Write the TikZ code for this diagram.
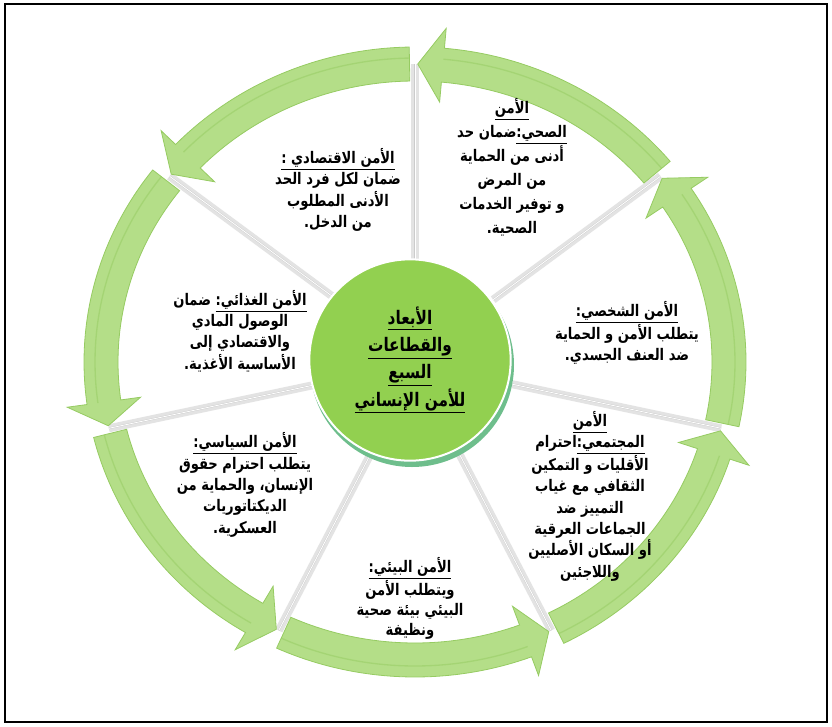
\documentclass[tikz,border=0pt]{standalone}
\usepackage{fontspec}
\newfontfamily\arabicfont[Script=Arabic, FakeStretch=0.82]{DejaVu Sans}
\TeXXeTstate=1
\definecolor{hubgreen}{RGB}{146,208,80}
\definecolor{hubshadow}{RGB}{110,190,140}
\definecolor{ringgreen}{RGB}{180,222,136}
\definecolor{ringedge}{RGB}{150,203,98}
\newcommand\ar[1]{\beginR #1\endR}
\newcommand\ulr[1]{\underline{\beginR #1\endR}}

\begin{document}
\begin{tikzpicture}[x=0.75pt, y=-0.75pt,
        seg/.style={font=\arabicfont\bfseries\fontsize{12}{16}\selectfont, align=center, inner sep=0pt},
        hub/.style={circle, fill=hubgreen, draw=white, line width=1.5pt, minimum size=151pt, inner sep=0pt,
                    font=\arabicfont\bfseries\fontsize{14}{20.5}\selectfont, align=center},
        band/.style={fill=ringgreen, draw=ringedge, line width=0.6pt},
        divider/.style={gray!22, line width=6pt}]
    \useasboundingbox (0,0) rectangle (832,726);
    \draw[line width=1.2pt] (5,4) rectangle (827,722);

    \begin{scope}[shift={(415,362)}, yscale=-1]
        \fill[white] (0,0) ellipse [x radius=314, y radius=298];
        \foreach \k in {0,...,6} {
            \pgfmathsetmacro\d{90+\k*360/7}
            \draw[divider] (\d:100) -- (\d:314 and 298);
            \draw[gray!40, line width=1.2pt] (\d:100) -- (\d:314 and 298);
            \draw[white, line width=0.6pt] (\d:100) -- (\d:314 and 298);
        }
        % arrows going round
        \foreach \k in {0,...,6} {
            \pgfmathsetmacro\a{90+\k*360/7+1}
            \pgfmathsetmacro\b{90+(\k+1)*360/7-0.5}
            \pgfmathsetmacro\c{\b-4.6}
            \path[band] (\a:331 and 315) arc[start angle=\a, end angle=\c, x radius=331, y radius=315]
                -- (\c:351 and 335) -- (\b:314 and 298) -- (\c:277 and 261) -- (\c:297 and 281)
                arc[start angle=\c, end angle=\a, x radius=297, y radius=281] -- cycle;
            \draw[ringedge, opacity=0.5, line width=1pt]
                (\a:320 and 304) arc[start angle=\a, end angle=\c, x radius=320, y radius=304];
        }
    \end{scope}

    \fill[hubshadow] (412,365) circle (102);
    \node[hub] (hub) at (410,360) {\ar{\ulr{الأبعاد}}\\ \ar{\ulr{والقطاعات}}\\ \ar{\ulr{السبع}}\\ \ar{\ulr{للأمن الإنساني}}};

    \node[seg, font=\arabicfont\bfseries\fontsize{12}{18}\selectfont] (sehi) at (512,167)
        {\ar{\ulr{الأمن}}\\ \ar{\ulr{الصحي:}ضمان حد}\\ \ar{أدنى من الحماية}\\ \ar{من المرض}\\ \ar{و توفير الخدمات}\\ \ar{الصحية.}};
    \node[seg] (iqtisadi) at (338,190)
        {\ar{\ulr{الأمن الاقتصادي :}}\\ \ar{ضمان لكل فرد الحد}\\ \ar{الأدنى المطلوب}\\ \ar{من الدخل.}};
    \node[seg] (shakhsi) at (627,333)
        {\ar{\ulr{الأمن الشخصي:}}\\ \ar{يتطلب الأمن و الحماية}\\ \ar{ضد العنف الجسدي.}};
    \node[seg] (ghidhai) at (240,331)
        {\ar{\ulr{الأمن الغذائي:} ضمان}\\ \ar{الوصول المادي}\\ \ar{والاقتصادي إلى}\\ \ar{الأساسية الأغذية.}};
    \node[seg] (mujtamai) at (590,496)
        {\ar{\ulr{الأمن}}\\ \ar{\ulr{المجتمعي:}احترام}\\ \ar{الأقليات و التمكين}\\ \ar{الثقافي مع غياب}\\ \ar{التمييز ضد}\\ \ar{الجماعات العرقية}\\ \ar{أو السكان الأصليين}\\ \ar{واللاجئين}};
    \node[seg] (siyasi) at (245,485)
        {\ar{\ulr{الأمن السياسي:}}\\ \ar{يتطلب احترام حقوق}\\ \ar{الإنسان، والحماية من}\\ \ar{الديكتاتوريات}\\ \ar{العسكرية.}};
    \node[seg, font=\arabicfont\bfseries\fontsize{12}{15}\selectfont] (biei) at (410,598)
        {\ar{\ulr{الأمن البيئي:}}\\ \ar{ويتطلب الأمن}\\ \ar{البيئي بيئة صحية}\\ \ar{ونظيفة}};
\end{tikzpicture}
\end{document}
